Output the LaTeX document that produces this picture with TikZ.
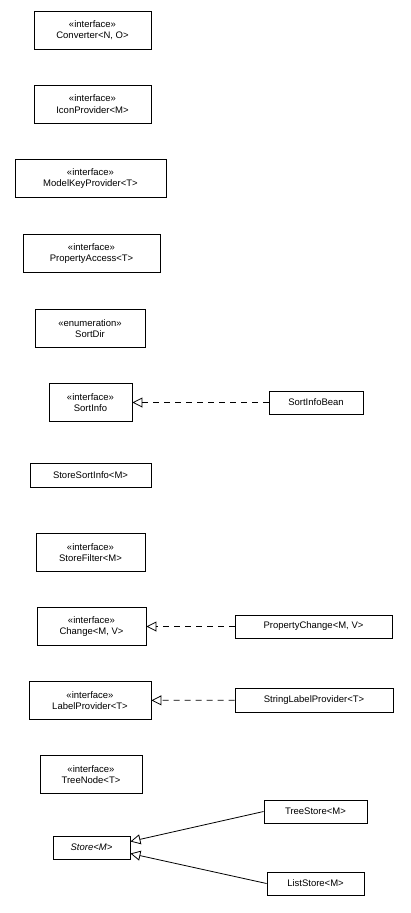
\documentclass[tikz,border=0pt]{standalone}
\usepackage{fontspec}
\setmainfont{Liberation Sans}
\usetikzlibrary{arrows.meta}
\begin{document}
\begin{tikzpicture}[x=1pt,y=-1pt,
  box/.style={draw,line width=0.9pt,fill=white,align=center,inner sep=1pt,font=\fontsize{9.5}{11.5}\selectfont},
  real/.style={-{Triangle[open,length=10pt,width=10pt]},line width=0.8pt,fill=white},
  impl/.style={real,dashed,dash pattern=on 6pt off 5pt}]
\useasboundingbox[fill=white] (0,0) rectangle (411,913);
\newcommand{\bx}[6]{\node[box,minimum width=#4pt,minimum height=#5pt] (#1) at (#2,#3) {#6};}
\bx{conv}{92.5}{30}{117}{38}{«interface»\\Converter<N, O>}
\bx{icon}{92.5}{104}{117}{38}{«interface»\\IconProvider<M>}
\bx{mkp}{90.5}{178.5}{151}{38}{«interface»\\ModelKeyProvider<T>}
\bx{pa}{91.5}{253.5}{137}{38}{«interface»\\PropertyAccess<T>}
\bx{sd}{90}{328.5}{110}{38}{«enumeration»\\SortDir}
\bx{si}{90.5}{402.5}{83}{38}{«interface»\\SortInfo}
\bx{sib}{316}{402.5}{94}{23}{SortInfoBean}
\bx{ssi}{90.5}{475}{121}{24}{StoreSortInfo<M>}
\bx{sf}{90.5}{552.5}{109}{38}{«interface»\\StoreFilter<M>}
\bx{ch}{91.5}{626.5}{109}{38}{«interface»\\Change<M, V>}
\bx{pc}{313.5}{626.5}{157}{23}{PropertyChange<M, V>}
\bx{lp}{90}{700.5}{122}{38}{«interface»\\LabelProvider<T>}
\bx{slp}{314}{700}{158}{24}{StringLabelProvider<T>}
\bx{tn}{91}{774.5}{102}{38}{«interface»\\TreeNode<T>}
\bx{st}{91.5}{847.5}{77}{23}{\itshape Store<M>}
\bx{ts}{315.5}{811.5}{103}{23}{TreeStore<M>}
\bx{ls}{315.5}{883.5}{97}{23}{ListStore<M>}
\coordinate (s1) at ([yshift=6pt]st.east);
\coordinate (s2) at ([yshift=-6pt]st.east);
\draw[impl] (sib) -- (si);
\draw[impl] (pc) -- (ch);
\draw[impl] (slp) -- (lp);
\draw[real] (ts.west) -- (s1);
\draw[real] (ls.west) -- (s2);
\end{tikzpicture}
\end{document}
